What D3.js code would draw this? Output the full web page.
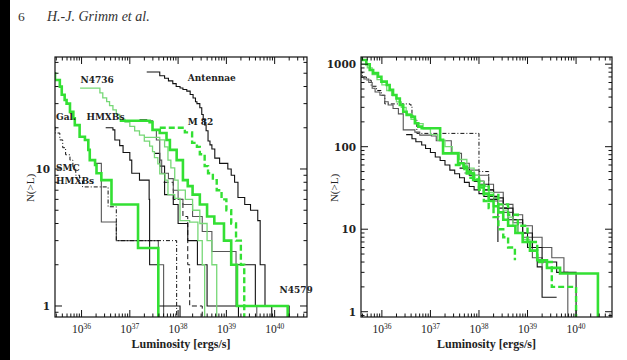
<!DOCTYPE html>
<html><head><meta charset="utf-8">
<script src="https://cdn.jsdelivr.net/npm/d3@7"></script>
<style>body{margin:0;background:#fff}svg{display:block}</style>
</head><body>
<svg id="c" width="627" height="360"></svg>
<script>
// ---------------- data (log10 L [erg/s], N(>L)) ----------------
const xTickExps = [36, 37, 38, 39, 40];
const leftYTicks = [1, 10];
const rightYTicks = [1, 10, 100, 1000];
const axisTitleX = "Luminosity [ergs/s]";
const axisTitleY = "N(>L)";

// left panel: raw cumulative luminosity functions
const L_gal   = [[35.3,50],[35.45,44.6],[35.55,39.9],[35.59,34.8],[35.65,31.9],[35.69,30],[35.76,26.1],[35.83,23.4],[35.86,20.9],[35.96,17.2],[36.07,16.3],[36.14,13.8],[36.17,11.6],[36.28,10.7],[36.31,9.3],[36.41,8.3],[36.62,5.5],[37.17,2.65],[37.59,0.5]];
const L_smc   = [[35.3,21],[35.45,18.3],[35.55,16.3],[35.61,14.3],[35.67,12.7],[35.76,11.6],[35.82,10.2],[35.88,9.0],[35.96,8.2],[36.02,7.4],[36.55,5.3],[36.72,3.0],[37.97,0.5]];
const L_n4736 = [[35.97,39],[36.38,36],[36.44,33],[36.52,31],[36.58,29],[36.65,27],[36.72,25],[36.79,23],[36.9,22],[37.0,20.5],[37.1,19],[37.2,17.7],[37.3,16],[37.41,14.7],[37.47,13.4],[37.51,12.1],[37.58,10.9],[37.62,9.2],[37.73,8.3],[37.79,6.5],[37.93,6.1],[38.04,4.2],[38.24,4.1],[38.41,3],[38.5,2],[38.55,0.5]];
const L_ant   = [[37.35,51],[37.62,48],[37.72,46],[37.8,44],[37.89,42],[37.96,40],[38.04,39],[38.1,38],[38.18,37],[38.25,35],[38.31,33],[38.36,31],[38.39,30],[38.45,28],[38.49,25],[38.52,23],[38.55,21],[38.58,19],[38.62,16],[38.66,15],[38.7,14],[38.76,12],[38.86,11],[39.03,10],[39.1,9],[39.17,8],[39.24,6.2],[39.38,5.5],[39.5,5],[39.65,4.2],[39.7,2],[39.8,1],[39.94,0.5]];
const L_m82   = [[36.79,22.5],[37.41,22],[37.47,19.3],[37.62,18.3],[37.76,16.3],[37.83,13.8],[37.97,11.6],[38.1,8.3],[38.2,7.5],[38.3,6.5],[38.45,5.5],[38.6,4.5],[38.75,4],[38.95,3],[39.1,2],[39.22,1],[40.27,0.5]];
const L_gdash = [[37.62,20],[38.14,18.5],[38.29,15.5],[38.39,14.5],[38.45,12.8],[38.55,10.5],[38.62,9.3],[38.72,8.3],[38.8,7],[38.9,6],[39.0,5],[39.1,4],[39.2,3],[39.3,2],[39.37,0.5]];
const L_gthin = [[37.3,17],[37.62,16.3],[37.72,14.5],[37.79,11.6],[37.85,10.2],[37.93,8.3],[38.0,7],[38.15,6],[38.3,5],[38.45,4],[38.6,3],[38.7,2],[38.8,0.5]];
const L_gray1 = [[37.2,23],[37.35,22.5],[37.47,19.3],[37.55,16.3],[37.62,11.6],[37.66,9.3],[37.8,8.5],[37.9,7],[38.0,6],[38.1,5.5],[38.3,4.5],[38.5,3.5],[38.7,2.5],[39.2,1],[39.63,0.5]];
const L_black1= [[36.5,20],[36.65,19.3],[36.69,16.3],[36.79,14.8],[36.86,13.2],[37.0,11.6],[37.04,9.3],[37.2,8.3],[37.4,6],[37.41,2],[37.59,1],[38.04,0.5]];
const L_gray2 = [[36.3,11],[36.41,4.1],[36.72,3.0],[37.59,2.0],[37.7,0.5]];
const L_black2= [[37.5,13],[37.62,10.5],[37.72,6.5],[37.9,5.5],[38.0,4],[38.2,3],[38.4,2],[38.6,1],[39.25,0.5]];
const L_bdash = [[37.7,8],[37.9,6],[38.1,4.5],[38.2,2],[38.24,1],[38.5,0.5]];
const L_n4579 = [[39.2,2],[39.6,1],[40.3,0.5]];

// right panel: normalised by star formation rate
const R_gthick = [[35.4,1300],[35.57,1122],[35.68,998],[35.75,850],[35.82,780],[35.92,705],[35.99,615],[36.1,560],[36.16,488],[36.23,424],[36.3,384],[36.37,320],[36.44,265],[36.51,242],[36.61,231],[36.68,192],[36.75,175],[36.82,167],[37.2,121],[37.26,83],[37.57,63],[37.68,57],[37.75,47.5],[37.88,39.5],[38.0,32],[38.1,27],[38.2,22],[38.3,19],[38.4,16],[38.5,13],[38.6,11],[38.75,9],[38.9,7],[39.05,5.5],[39.2,4.2],[39.4,3.4],[39.67,2.9],[40.45,0.3]];
const R_gthin  = [[35.4,1200],[35.57,1000],[35.7,900],[35.8,750],[35.9,650],[36.0,560],[36.1,480],[36.2,420],[36.3,350],[36.4,300],[36.5,250],[36.6,215],[36.7,190],[36.85,165],[37.0,140],[37.15,120],[37.3,100],[37.45,85],[37.6,70],[37.75,55],[37.9,45],[38.0,38],[38.1,33],[38.2,28],[38.3,24],[38.4,20],[38.5,17],[38.6,14],[38.7,11],[38.8,9],[38.9,7.5],[39.05,5.5],[39.05,5.5]];
const R_gray   = [[35.4,900],[35.57,690],[35.63,660],[35.73,600],[35.8,510],[35.86,460],[35.96,420],[36.06,350],[36.13,320],[36.23,290],[36.34,250],[36.44,160],[36.68,150],[36.78,138],[37.02,135],[37.12,118],[37.43,83],[37.64,63],[37.8,52],[38.0,45],[38.2,35],[38.3,28],[38.5,20],[38.7,15],[38.9,11],[39.1,8],[39.3,6],[39.5,4.5],[39.75,3],[39.83,0.3]];
const R_smc    = [[35.4,850],[35.5,800],[35.6,700],[35.68,640],[35.78,540],[35.89,480],[35.99,420],[36.06,330],[36.58,320],[36.62,240],[36.68,213],[36.72,145],[38.0,50],[38.2,38],[38.2,38]];
const R_black1 = [[36.5,140],[36.62,125],[36.7,115],[36.82,105],[36.9,95],[37.0,85],[37.1,75],[37.2,68],[37.3,60],[37.4,52],[37.5,47],[37.6,42],[37.7,37],[37.8,33],[37.9,30],[38.0,27],[38.1,25],[38.2,23],[38.39,7],[38.39,7]];
const R_gdash  = [[37.5,60],[37.7,50],[37.9,40],[38.0,30],[38.1,22],[38.2,18],[38.3,14],[38.4,10],[38.5,8],[38.6,6],[38.74,4.2],[38.74,4.2]];
const R_black2 = [[37.6,55],[37.8,45],[38.0,35],[38.2,25],[38.4,18],[38.6,13],[38.8,9],[39.0,6],[39.2,3.5],[39.3,1.5],[39.6,1.5]];
const R_gray2  = [[37.7,48],[37.9,38],[38.1,30],[38.3,22],[38.5,16],[38.7,12],[38.9,8],[39.1,4.5],[39.3,3.2],[39.3,3.2]];
const R_gdash2 = [[37.8,42],[38.0,34],[38.2,26],[38.4,20],[38.6,15],[38.8,11],[39.0,7],[39.2,4],[39.5,2],[40.0,0.3]];
const R_black3 = [[37.9,38],[38.1,30],[38.3,24],[38.5,18],[38.7,13],[38.9,9],[39.1,6],[39.3,4],[39.6,3],[40.0,0.3]];

const styles = {
  gThick:{stroke:"#33e033", w:2.6, dash:null},
  gThin:{stroke:"#77d877", w:1.3, dash:null},
  gDash:{stroke:"#33e033", w:2.4, dash:"6,3"},
  black:{stroke:"#111", w:1.1, dash:null},
  gray:{stroke:"#555", w:1.1, dash:null},
  dashdot:{stroke:"#111", w:1.0, dash:"4,2,1,2"},
  bdash:{stroke:"#111", w:1.0, dash:"5,3"}
};

const leftSeries = [
  [L_gray2,"gray"],[L_smc,"dashdot"],[L_black1,"black"],[L_black2,"black"],[L_bdash,"bdash"],
  [L_gray1,"gray"],[L_ant,"black"],[L_n4579,"black"],
  [L_n4736,"gThin"],[L_gthin,"gThin"],[L_gdash,"gDash"],[L_m82,"gThick"],[L_gal,"gThick"]
];
const rightSeries = [
  [R_smc,"dashdot"],[R_gray,"gray"],[R_black1,"black"],[R_black2,"black"],[R_gray2,"gray"],[R_black3,"black"],
  [R_gthin,"gThin"],[R_gdash,"gDash"],[R_gdash2,"gDash"],[R_gthick,"gThick"]
];
const leftLabels = [
  ["N4736",35.98,42.5],["Antennae",38.2,44],["Gal.",35.47,22.8],["HMXBs",36.1,22.8],
  ["M 82",38.2,21],["SMC",35.47,9.7],["HMXBs",35.47,7.8],["N4579",40.1,1.25]
];

// ---------------- drawing ----------------
const svg = d3.select("#c");
const serif = "'DejaVu Serif','Liberation Serif',serif";
const times = "'Liberation Serif','DejaVu Serif',serif";

svg.append("rect").attr("x",0).attr("y",0).attr("width",10).attr("height",360).attr("fill","#000");
svg.append("text").attr("x",18).attr("y",21).attr("font-family",times).attr("font-size",13.5).attr("fill","#333").text("6");
svg.append("text").attr("x",47).attr("y",21).attr("font-family",times).attr("font-size",14)
  .attr("font-style","italic").attr("fill","#333").text("H.-J. Grimm et al.");

function panel(id, box, xDom, yDom, yTicks, series, labels, yTitleX){
  const x = d3.scaleLinear().domain(xDom).range([box.l, box.r]);
  const y = d3.scaleLog().domain(yDom).range([box.b, box.t]);
  const g = svg.append("g");
  g.append("clipPath").attr("id","clip"+id).append("rect")
    .attr("x",box.l).attr("y",box.t).attr("width",box.r-box.l).attr("height",box.b-box.t);
  const line = d3.line().x(d=>x(d[0])).y(d=>y(d[1])).curve(d3.curveStepAfter);
  const cg = g.append("g").attr("clip-path","url(#clip"+id+")");
  series.forEach(([pts,st])=>{
    const s = styles[st];
    cg.append("path").attr("d",line(pts)).attr("fill","none")
      .attr("stroke",s.stroke).attr("stroke-width",s.w)
      .attr("stroke-dasharray",s.dash).attr("stroke-linejoin","miter");
  });
  g.append("rect").attr("x",box.l).attr("y",box.t).attr("width",box.r-box.l).attr("height",box.b-box.t)
    .attr("fill","none").attr("stroke","#111").attr("stroke-width",1.2);
  const xd = x.domain();
  for(let e=Math.floor(xd[0]); e<=Math.ceil(xd[1]); e++){
    for(let m=1;m<=9;m++){
      const v = e + Math.log10(m);
      if(v<xd[0]||v>xd[1]) continue;
      const len = m===1?7:3.5, px=x(v);
      g.append("line").attr("x1",px).attr("x2",px).attr("y1",box.b).attr("y2",box.b-len).attr("stroke","#111");
      g.append("line").attr("x1",px).attr("x2",px).attr("y1",box.t).attr("y2",box.t+len).attr("stroke","#111");
    }
  }
  const yd = y.domain();
  for(let e=Math.floor(Math.log10(yd[0])); e<=Math.ceil(Math.log10(yd[1])); e++){
    for(let m=1;m<=9;m++){
      const v = m*Math.pow(10,e);
      if(v<yd[0]||v>yd[1]) continue;
      const len = m===1?7:3.5, py=y(v);
      g.append("line").attr("x1",box.l).attr("x2",box.l+len).attr("y1",py).attr("y2",py).attr("stroke","#111");
      g.append("line").attr("x1",box.r).attr("x2",box.r-len).attr("y1",py).attr("y2",py).attr("stroke","#111");
    }
  }
  xTickExps.forEach(e=>{
    const t = g.append("text").attr("x",x(e)).attr("y",box.b+16).attr("text-anchor","middle")
      .attr("font-family",times).attr("font-size",11.5).attr("fill","#222");
    t.append("tspan").text("10");
    t.append("tspan").attr("dy",-4.5).attr("font-size",7.5).text(e);
  });
  yTicks.forEach(v=>{
    g.append("text").attr("x",box.l-5).attr("y",y(v)+4).attr("text-anchor","end")
      .attr("font-family",serif).attr("font-size",10.5).attr("font-weight","bold").attr("fill","#222").text(v);
  });
  g.append("text").attr("x",(box.l+box.r)/2).attr("y",348).attr("text-anchor","middle")
    .attr("font-family",times).attr("font-size",12).attr("font-weight","bold").attr("fill","#222").text(axisTitleX);
  g.append("text").attr("transform",`translate(${yTitleX},188) rotate(-90)`).attr("text-anchor","middle")
    .attr("font-family",times).attr("font-size",11).attr("fill","#222").text(axisTitleY);
  labels.forEach(([txt,lx,ly])=>{
    g.append("text").attr("x",x(lx)).attr("y",y(ly)).attr("font-family",serif)
      .attr("font-size",9).attr("font-weight","bold").attr("fill","#222").text(txt);
  });
}

panel("L",{l:55,r:307,t:57,b:317},[35.45,40.67],[0.831,65.7],leftYTicks,leftSeries,leftLabels,34);
panel("R",{l:361,r:612,t:57,b:317},[35.57,40.74],[0.863,1222],rightYTicks,rightSeries,[],338);
</script>
</body></html>
